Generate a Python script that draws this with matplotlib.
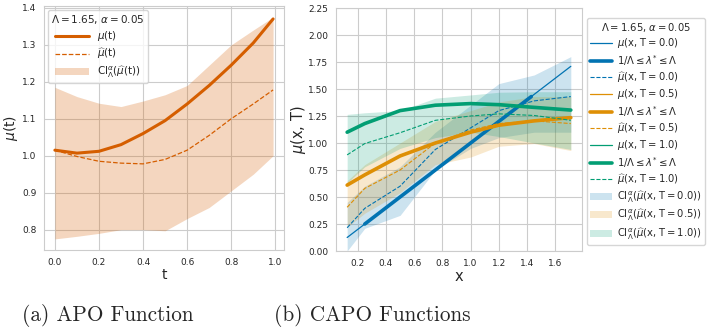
import matplotlib
matplotlib.use('Agg')
import matplotlib.pyplot as plt
import seaborn as sns
import numpy as np

sns.set_style('whitegrid')
plt.rcParams['font.family'] = ['DejaVu Sans']

# (a) APO function
t = [0.0, 0.1, 0.2, 0.3, 0.4, 0.5, 0.6, 0.7, 0.8, 0.9, 0.99]
mu_t = [1.015, 1.007, 1.012, 1.030, 1.060, 1.095, 1.140, 1.190, 1.245, 1.305, 1.370]
mu_hat_t = [1.015, 0.998, 0.985, 0.980, 0.978, 0.990, 1.015, 1.055, 1.100, 1.140, 1.178]
ci_upper_t = [1.185, 1.160, 1.142, 1.133, 1.148, 1.165, 1.190, 1.245, 1.300, 1.340, 1.375]
ci_lower_t = [0.775, 0.782, 0.790, 0.800, 0.800, 0.797, 0.830, 0.860, 0.905, 0.950, 1.000]

# (b) CAPO functions
x = [0.125, 0.25, 0.5, 0.75, 1.0, 1.2, 1.45, 1.71]
treatments = ['0.0', '0.5', '1.0']
mu_x = {
    '0.0': [0.125, 0.25, 0.5, 0.75, 1.0, 1.2, 1.45, 1.71],
    '0.5': [0.61, 0.705, 0.88, 1.00, 1.10, 1.165, 1.205, 1.235],
    '1.0': [1.10, 1.18, 1.30, 1.35, 1.365, 1.355, 1.33, 1.305],
}
# thick segment (1/Lambda <= lambda* <= Lambda)
thick_x = {
    '0.0': [0.25, 0.5, 0.75, 1.0, 1.2, 1.43],
    '0.5': x,
    '1.0': x,
}
thick_y = {
    '0.0': [0.25, 0.5, 0.75, 1.0, 1.2, 1.43],
    '0.5': mu_x['0.5'],
    '1.0': mu_x['1.0'],
}
mu_hat_x = {
    '0.0': [0.215, 0.395, 0.60, 0.94, 1.14, 1.30, 1.39, 1.43],
    '0.5': [0.405, 0.58, 0.75, 1.00, 1.12, 1.18, 1.205, 1.18],
    '1.0': [0.89, 0.995, 1.095, 1.21, 1.25, 1.27, 1.255, 1.21],
}
ci_upper_x = {
    '0.0': [0.45, 0.60, 0.78, 1.10, 1.35, 1.55, 1.63, 1.80],
    '0.5': [0.65, 0.80, 1.00, 1.20, 1.30, 1.38, 1.43, 1.43],
    '1.0': [1.265, 1.28, 1.30, 1.415, 1.445, 1.47, 1.475, 1.475],
}
ci_lower_x = {
    '0.0': [0.00, 0.21, 0.33, 0.75, 0.95, 1.05, 1.10, 1.10],
    '0.5': [0.22, 0.35, 0.54, 0.80, 0.87, 0.97, 0.995, 0.93],
    '1.0': [0.63, 0.78, 0.95, 1.05, 1.10, 1.06, 1.00, 0.94],
}

colors = sns.color_palette('colorblind')
capo_colors = {'0.0': colors[0], '0.5': colors[1], '1.0': colors[2]}
apo_color = colors[3]

fig = plt.figure(figsize=(7.07, 3.34), dpi=100)
ax1 = fig.add_axes([0.0622, 0.2515, 0.3395, 0.7305])
ax2 = fig.add_axes([0.4752, 0.2485, 0.348, 0.7275])

# left panel
ax1.plot(t, mu_t, color=apo_color, lw=2.2, label=r'$\mu$(t)')
ax1.plot(t, mu_hat_t, color=apo_color, lw=0.9, ls='--', label=r'$\widehat{\mu}$(t)')
ax1.fill_between(t, ci_lower_t, ci_upper_t, color=apo_color, alpha=0.25, lw=0,
                 label=r'CI$^{\alpha}_{\Lambda}$($\widehat{\mu}$(t))')
ax1.set_xlabel('t', fontsize=10, labelpad=1)
ax1.set_ylabel(r'$\mu$(t)', fontsize=10)
ax1.yaxis.set_label_coords(-0.1, 0.5)
ax1.tick_params(labelsize=6.5, pad=2)
ax1.legend(loc='upper left', fontsize=7.5, title=r'$\Lambda=1.65$, $\alpha=0.05$',
           title_fontsize=7.5, frameon=True, borderaxespad=0.4, handlelength=3.2,
           labelspacing=0.3, borderpad=0.3)

# right panel
handles = []
for tr in treatments:
    c = capo_colors[tr]
    h1, = ax2.plot(x, mu_x[tr], color=c, lw=0.9, label=r'$\mu$(x, T$=$' + tr + ')')
    h2, = ax2.plot(thick_x[tr], thick_y[tr], color=c, lw=2.6,
                   label=r'1/$\Lambda \leq \lambda^{*} \leq \Lambda$')
    h3, = ax2.plot(x, mu_hat_x[tr], color=c, lw=0.8, ls='--',
                   label=r'$\widehat{\mu}$(x, T$=$' + tr + ')')
    handles += [h1, h2, h3]
fills = []
for tr in treatments:
    f = ax2.fill_between(x, ci_lower_x[tr], ci_upper_x[tr], color=capo_colors[tr],
                         alpha=0.2, lw=0,
                         label=r'CI$^{\alpha}_{\Lambda}$($\widehat{\mu}$(x, T$=$' + tr + '))')
    fills.append(f)
ax2.set_ylim(0, 2.25)
ax2.set_xticks([0.2, 0.4, 0.6, 0.8, 1.0, 1.2, 1.4, 1.6])
ax2.set_xlabel('x', fontsize=10.5, labelpad=1)
ax2.set_ylabel(r'$\mu$(x, T)', fontsize=10.5)
ax2.yaxis.set_label_coords(-0.115, 0.5)
ax2.tick_params(labelsize=6.5, pad=2)
ax2.legend(handles=handles + fills, loc='upper left', bbox_to_anchor=(1.02, 0.96),
           fontsize=7.2, title=r'$\Lambda=1.65$, $\alpha=0.05$', title_fontsize=7.2,
           frameon=True, borderaxespad=0, handlelength=2.2, handletextpad=0.55,
           labelspacing=0.25, borderpad=0.3)

cap_font = ['cmr10', 'DejaVu Serif']
fig.text(0.152, 0.054, '(a) APO Function', fontsize=15.3, family=cap_font, ha='center', va='center')
fig.text(0.526, 0.054, '(b) CAPO Functions', fontsize=15.3, family=cap_font, ha='center', va='center')

plt.savefig('out.png', dpi=100)
